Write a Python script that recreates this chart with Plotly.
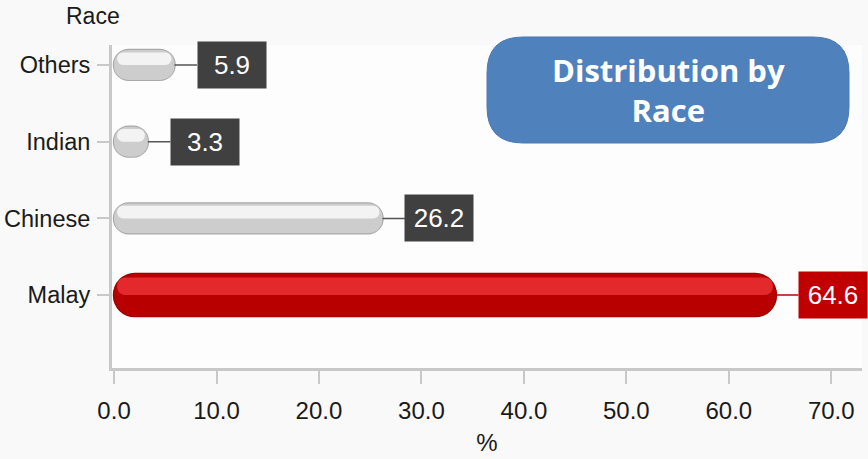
import plotly.graph_objects as go

# Population share by race (%)
races = ["Malay", "Chinese", "Indian", "Others"]
shares = [64.6, 26.2, 3.3, 5.9]
x_ticks = [0, 10, 20, 30, 40, 50, 60, 70]
x_tick_labels = ["0.0", "10.0", "20.0", "30.0", "40.0", "50.0", "60.0", "70.0"]

body_colors = ["#b90000", "#cdcdcd", "#cdcdcd", "#cdcdcd"]
edge_colors = ["#9c0000", "#a8a8a8", "#a8a8a8", "#a8a8a8"]
gloss_colors = ["#e3292c", "#f3f3f3", "#f3f3f3", "#f3f3f3"]
box_colors = ["#c00000", "#404040", "#404040", "#404040"]
leader_colors = ["#c00000", "#555555", "#555555", "#555555"]
thickness = [0.55, 0.39, 0.39, 0.39]

W, H = 868, 459
M_L, M_R, M_T, M_B = 112, 6, 45, 91
X_RANGE = [-0.2, 73]
Y_RANGE = [-0.95, 3.26]

FONT = "Liberation Sans, Arial, sans-serif"
INK = "#1a1a1a"

fig = go.Figure()


def add_capsule(starts, ends, widths, offsets, colors):
    """Pill-shaped horizontal bars from starts to ends."""
    fig.add_trace(go.Bar(
        y=races, x=[e - s for s, e in zip(starts, ends)], base=starts,
        width=widths, offset=offsets, orientation="h",
        marker=dict(color=colors, cornerradius="50%", line=dict(width=0)),
        hoverinfo="skip", showlegend=False,
    ))


# outline layer
add_capsule([-0.12] * 4, [v + 0.12 for v in shares],
            [t + 0.03 for t in thickness], [-(t + 0.03) / 2 for t in thickness], edge_colors)
# main body
add_capsule([0] * 4, shares, thickness, [-t / 2 for t in thickness], body_colors)
# glossy upper half
add_capsule([0.3] * 4, [v - 0.3 for v in shares],
            [0.42 * t for t in thickness], [0.0 * t for t in thickness], gloss_colors)

# value boxes with leader lines
for race, v, c, lc in zip(races, shares, box_colors, leader_colors):
    fig.add_annotation(
        x=v, y=race, xref="x", yref="y",
        text=f"{v:.1f}", showarrow=True, arrowhead=0, arrowwidth=1.5,
        arrowcolor=lc, ax=57, ay=0, standoff=0, startstandoff=0,
        bgcolor=c, width=64, height=42, borderpad=2,
        font=dict(family=FONT, size=26, color="white"),
    )


def px_to_paper(px, py):
    return ((px - M_L) / (W - M_L - M_R), (H - M_B - py) / (H - M_T - M_B))


rx, ry = px_to_paper(93, 16)
fig.add_annotation(
    text="Race", xref="paper", yref="paper", x=rx, y=ry,
    showarrow=False, xanchor="center", yanchor="middle",
    font=dict(family=FONT, size=23, color=INK),
)


# rounded title panel
def rounded_rect(x0, y0, x1, y1, r):
    pts = [
        ("M", [(x0 + r, y0)]), ("L", [(x1 - r, y0)]), ("Q", [(x1, y0), (x1, y0 + r)]),
        ("L", [(x1, y1 - r)]), ("Q", [(x1, y1), (x1 - r, y1)]),
        ("L", [(x0 + r, y1)]), ("Q", [(x0, y1), (x0, y1 - r)]),
        ("L", [(x0, y0 + r)]), ("Q", [(x0, y0), (x0 + r, y0)]),
    ]
    out = []
    for cmd, coords in pts:
        conv = [px_to_paper(a, b) for a, b in coords]
        out.append(cmd + " ".join(f"{a:.5f},{b:.5f}" for a, b in conv))
    return " ".join(out) + " Z"


fig.add_shape(type="path", xref="paper", yref="paper",
              path=rounded_rect(487, 37, 849, 143, 36),
              fillcolor="#4f81bd", line=dict(color="#4a7ab3", width=1), layer="above")
tx, ty = px_to_paper(668, 90)
fig.add_annotation(
    text="<b>Distribution by<br>Race</b>", xref="paper", yref="paper",
    x=tx, y=ty, showarrow=False, xanchor="center", yanchor="middle",
    font=dict(family="Open Sans, Lato, sans-serif", size=31, color="white"),
)

fig.update_layout(
    width=W, height=H, barmode="overlay",
    margin=dict(l=M_L, r=M_R, t=M_T, b=M_B),
    paper_bgcolor="#f9f9f9", plot_bgcolor="#fdfdfd",
    xaxis=dict(
        range=X_RANGE, tickvals=x_ticks, ticktext=x_tick_labels,
        showgrid=False, zeroline=False, automargin=False,
        showline=True, linecolor="#c8c8c8", linewidth=3,
        ticks="outside", ticklen=13, tickwidth=1.5, tickcolor="#c8c8c8",
        ticklabelstandoff=6,
        tickfont=dict(family=FONT, size=24, color=INK),
        title=dict(text="%", font=dict(family=FONT, size=24, color=INK), standoff=12),
    ),
    yaxis=dict(
        type="category", categoryorder="array", categoryarray=races,
        range=Y_RANGE, showgrid=False, zeroline=False, automargin=False,
        showline=True, linecolor="#c8c8c8", linewidth=3,
        ticks="outside", ticklen=12, tickwidth=1.5, tickcolor="#c8c8c8",
        ticklabelstandoff=2,
        tickfont=dict(family=FONT, size=23.5, color=INK),
    ),
)

fig.write_html("out.html")
